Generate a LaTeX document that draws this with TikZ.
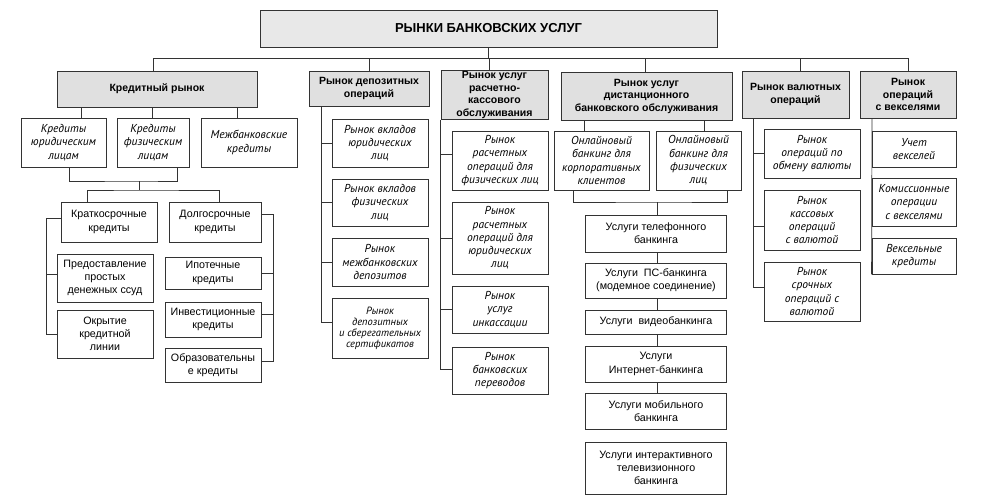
\documentclass[tikz,border=0pt]{standalone}
\usepackage{fontspec}
\setmainfont{Liberation Sans}
\newfontfamily\curs{PT Sans}
\begin{document}
\begin{tikzpicture}[x=1pt,y=-1pt,
 ln/.style={draw=black!80, line width=0.7pt},
 bx/.style={draw=black!80, line width=0.9pt, fill=white, align=center, inner sep=1pt, font=\fontsize{10.7}{13.3}\selectfont},
 it/.style={bx, font=\curs\fontsize{11.5}{13.3}\selectfont\itshape},
 hd/.style={bx, fill=black!12, font=\fontsize{10.5}{12.5}\selectfont\bfseries},
 sz/.style 2 args={minimum width=#1pt, minimum height=#2pt}]
\useasboundingbox (0,0) rectangle (987,503);
% top
\node[hd, sz={457}{37}, font=\fontsize{13}{15}\selectfont\bfseries, fill=black!9] (top) at (488.5,28.5) {РЫНКИ БАНКОВСКИХ УСЛУГ};
% headers
\node[hd, sz={200}{36}] (kred) at (157,89) {Кредитный рынок};
\node[hd, sz={120}{35}] (dep) at (369,88.5) {Рынок депозитных\\операций};
\node[hd, sz={107}{48}] (rko) at (494.5,95) {Рынок услуг\\расчетно-\\кассового\\обслуживания};
\node[hd, sz={171}{48}] (dbo) at (646.5,96) {Рынок услуг\\дистанционного\\банковского обслуживания};
\node[hd, sz={107}{47}] (val) at (795.5,94.5) {Рынок валютных\\операций};
\node[hd, sz={96}{47}] (veks) at (908,94.5) {Рынок\\операций\\с векселями};
% credit market
\node[it, sz={85}{49}] (kj) at (63.5,142.5) {Кредиты\\юридическим\\лицам};
\node[it, sz={72}{49}] (kf) at (153,142.5) {Кредиты\\физическим\\лицам};
\node[it, sz={96}{49}] (mk) at (249,142.5) {Межбанковские\\кредиты};
\node[bx, sz={96}{40}] (kk) at (109,222) {Краткосрочные\\кредиты};
\node[bx, sz={92}{40}] (dk) at (215,222) {Долгосрочные\\кредиты};
\node[bx, sz={96}{48}] (ps) at (105,278) {Предоставление\\простых\\денежных ссуд};
\node[bx, sz={96}{48}] (ok) at (105,334) {Окрытие\\кредитной\\линии};
\node[bx, sz={96}{32}] (ip) at (213,273) {Ипотечные\\кредиты};
\node[bx, sz={96}{35}] (inv) at (213,319.5) {Инвестиционные\\кредиты};
\node[bx, sz={96}{34}] (obr) at (213,365) {Образовательны\\е кредиты};
% deposits
\node[it, sz={96}{48}] (dv1) at (380,143) {Рынок вкладов\\юридических\\лиц};
\node[it, sz={96}{47}] (dv2) at (380,202.5) {Рынок вкладов\\физических\\лиц};
\node[it, sz={96}{48}] (dv3) at (380,262) {Рынок\\межбанковских\\депозитов};
\node[it, sz={96}{60}, font=\curs\fontsize{10.5}{10.9}\selectfont\itshape] (dv4) at (380,328) {Рынок\\депозитных\\и сберегательных\\сертификатов};
% rko
\node[it, sz={96}{59}] (r1) at (500,160.5) {Рынок\\расчетных\\операций для\\физических лиц};
\node[it, sz={96}{72}] (r2) at (500,238) {Рынок\\расчетных\\операций для\\юридических\\лиц};
\node[it, sz={96}{47}] (r3) at (500,309.5) {Рынок\\услуг\\инкассации};
\node[it, sz={96}{47}] (r4) at (500,370.5) {Рынок\\банковских\\переводов};
% dbo
\node[it, sz={95}{59}] (o1) at (601.5,160.5) {Онлайновый\\банкинг для\\корпоративных\\клиентов};
\node[it, sz={85}{59}] (o2) at (698.5,160.5) {Онлайновый\\банкинг для\\физических\\лиц};
\node[bx, sz={141}{37}] (t1) at (656,233.5) {Услуги телефонного\\банкинга};
\node[bx, sz={141}{35}] (t2) at (656,280.5) {Услуги\ \ ПС-банкинга\\(модемное соединение)};
\node[bx, sz={141}{24}] (t3) at (656,322) {Услуги\ \ видеобанкинга};
\node[bx, sz={141}{36}] (t4) at (656,364) {Услуги\\Интернет-банкинга};
\node[bx, sz={141}{36}] (t5) at (656,411) {Услуги мобильного\\банкинга};
\node[bx, sz={141}{52}] (t6) at (656,468) {Услуги интерактивного\\телевизионного\\банкинга};
% currency
\node[it, sz={96}{49}] (v1) at (812,153.5) {Рынок\\операций по\\обмену валюты};
\node[it, sz={96}{60}] (v2) at (812,220) {Рынок\\кассовых\\операций\\с валютой};
\node[it, sz={96}{59}] (v3) at (812,291.5) {Рынок\\срочных\\операций с\\валютой};
% bills
\node[it, sz={84}{36}] (w1) at (914,149) {Учет\\векселей};
\node[it, sz={84}{48}] (w2) at (914,202) {Комиссионные\\операции\\с векселями};
\node[it, sz={84}{36}] (w3) at (914,256) {Вексельные\\кредиты};
% helper coordinates
\foreach \x in {46,69,81,87,139,152,153,177,219,237,273,321,441,489,573,584,645,657,704,727,753,800,872,908}
  \coordinate (x\x) at (\x,0);
\coordinate (busy) at (0,58);
\coordinate (j1) at (139,181);
\coordinate (j2) at (139,190);
\coordinate (j3) at (657,202);
% bus
\draw[ln] (top.south) -- (top.south |- busy);
\draw[ln] (kred.north -| x153) -- (x153 |- busy) -- (x908 |- busy) -- (veks.north -| x908);
\draw[ln] (dep.north) -- (dep.north |- busy);
\draw[ln] (rko.north -| x489) -- (x489 |- busy);
\draw[ln] (dbo.north -| x645) -- (x645 |- busy);
\draw[ln] (val.north -| x800) -- (x800 |- busy);
% credit connectors
\draw[ln] (kred.south -| x81) -- (kj.north -| x81);
\draw[ln] (kred.south -| x152) -- (kf.north -| x152);
\draw[ln] (kred.south -| x237) -- (mk.north -| x237);
\draw[ln] (kj.south -| x69) |- (j1) -| (kf.south -| x177);
\draw[ln] (j1) -- (j2);
\draw[ln] (kk.north -| x87) |- (j2) -| (dk.north -| x219);
\draw[ln] ([yshift=4pt]kk.west) -| (ok.west -| x46) -- (ok.west);
\draw[ln] ([yshift=4pt]ps.west) -- ([yshift=4pt]ps.west -| x46);
\draw[ln] ([yshift=8pt]dk.east) -| ([yshift=4pt]obr.east -| x273) -- ([yshift=4pt]obr.east);
\draw[ln] (ip.east) -- (ip.east -| x273);
\draw[ln] ([yshift=5pt]inv.east) -- ([yshift=5pt]inv.east -| x273);
% deposit connectors
\draw[ln] (dep.south -| x321) |- ([yshift=6pt]dv4.west);
\draw[ln] (dv1.west) -- (dv1.west -| x321);
\draw[ln] (dv2.west) -- (dv2.west -| x321);
\draw[ln] (dv3.west) -- (dv3.west -| x321);
% rko connectors
\draw[ln] (rko.south west) |- ([yshift=1pt]r4.west);
\draw[ln] ([yshift=6pt]r1.west) -- ([yshift=6pt]r1.west -| x441);
\draw[ln] (r2.west) -- (r2.west -| x441);
\draw[ln] (r3.west) -- (r3.west -| x441);
% dbo connectors
\draw[ln] (dbo.south -| x584) -- (o1.north -| x584);
\draw[ln] (dbo.south -| x704) -- (o2.north -| x704);
\draw[ln] (o1.south -| x573) |- (j3) -| (o2.south -| x727);
\draw[ln] (j3) -- (t1.north -| x657);
\draw[ln] (t1.south -| x657) -- (t2.north -| x657);
\draw[ln] (t2.south -| x657) -- (t3.north -| x657);
\draw[ln] (t3.south -| x657) -- (t4.north -| x657);
\draw[ln] (t4.south -| x657) -- (t5.north -| x657);
% currency connectors
\draw[ln] (val.south -| x753) |- ([yshift=4.5pt]v3.west);
\draw[ln] (v1.west) -- (v1.west -| x753);
\draw[ln] ([yshift=-6pt]v2.west) -- ([yshift=-6pt]v2.west -| x753);
% bills connector
\draw[ln] (veks.south -| x872) -- (w3.south west);
\end{tikzpicture}
\end{document}
